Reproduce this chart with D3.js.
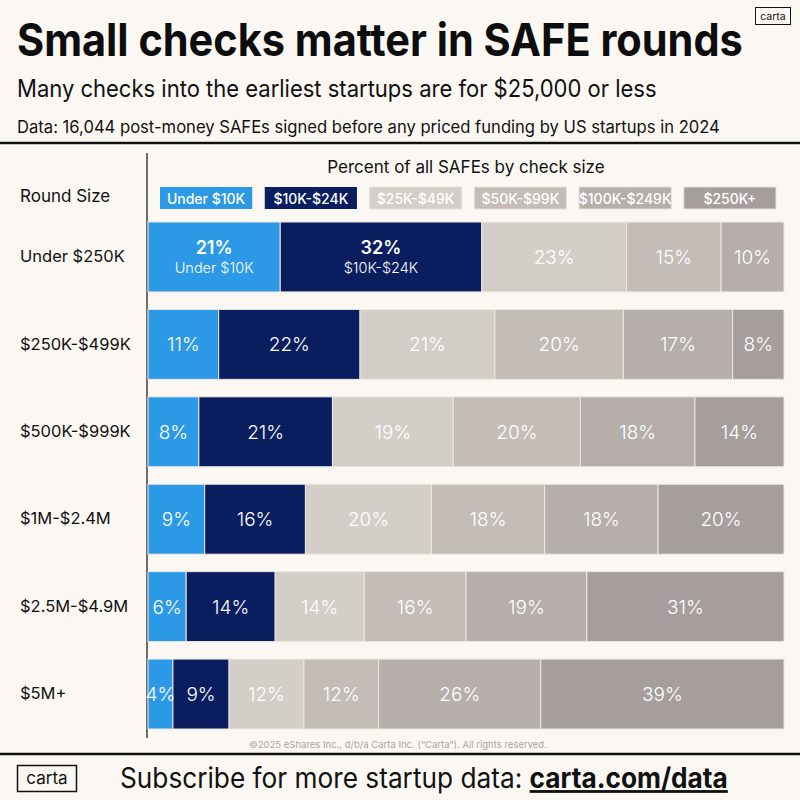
<!DOCTYPE html>
<html><head><meta charset="utf-8">
<script src="https://cdn.jsdelivr.net/npm/d3@7"></script>
<style>
body{margin:0;background:#fbf8f3}
svg{display:block}
text{font-family:Inter,'Open Sans',sans-serif}
</style>
</head><body>
<svg id="c" width="800" height="800"></svg>
<script>
// ---- data ----
const rounds = ["Under $250K", "$250K-$499K", "$500K-$999K", "$1M-$2.4M", "$2.5M-$4.9M", "$5M+"];
const checkSizes = ["Under $10K", "$10K-$24K", "$25K-$49K", "$50K-$99K", "$100K-$249K", "$250K+"];
const under10K   = [21, 11, 8, 9, 6, 4];
const k10to24    = [32, 22, 21, 16, 14, 9];
const k25to49    = [23, 21, 19, 20, 14, 12];
const k50to99    = [15, 20, 20, 18, 16, 12];
const k100to249  = [10, 17, 18, 18, 19, 26];
const k250plus   = [0, 8, 14, 20, 31, 39];
const colors = ["#2c99e7", "#0a1d5f", "#d4cec9", "#c3bcb7", "#b5aeaa", "#a69e9c"];

const series = [under10K, k10to24, k25to49, k50to99, k100to249, k250plus];
const table = rounds.map((r, i) => {
  const o = {round: r};
  checkSizes.forEach((c, j) => o[c] = series[j][i]);
  return o;
});

const svg = d3.select("#c");
const W = 800;
svg.append("rect").attr("width", 800).attr("height", 800).attr("fill", "#fbf8f3");

// fit a text horizontally to a target width using a scale transform
function fitText(sel, x0, y0, target) {
  sel.attr("x", 0).attr("y", 0);
  const w = sel.node().getComputedTextLength();
  const sx = Math.min(1.2, target / w);
  sel.attr("transform", `translate(${x0},${y0}) scale(${sx},1)`);
}

// ---- header ----
fitText(svg.append("text")
  .attr("font-size", 45).attr("font-weight", 700).attr("fill", "#0d0d0d")
  .text("Small checks matter in SAFE rounds"), 17, 56, 726);
fitText(svg.append("text")
  .attr("font-size", 24).attr("fill", "#111")
  .text("Many checks into the earliest startups are for $25,000 or less"), 17, 97, 640);
fitText(svg.append("text")
  .attr("font-size", 17).attr("fill", "#111")
  .text("Data: 16,044 post-money SAFEs signed before any priced funding by US startups in 2024"), 17, 133, 703);
svg.append("line").attr("x1", 0).attr("x2", W).attr("y1", 143).attr("y2", 143)
  .attr("stroke", "#111").attr("stroke-width", 2.5);

// top-right logo
svg.append("rect").attr("x", 755.5).attr("y", 7.5).attr("width", 35).attr("height", 17)
  .attr("fill", "none").attr("stroke", "#111").attr("stroke-width", 1);
svg.append("text").attr("x", 773).attr("y", 20).attr("text-anchor", "middle")
  .attr("font-size", 10.5).attr("fill", "#111").text("carta");

// ---- scales ----
const x = d3.scaleLinear().domain([0, 1]).range([148, 784]);
const y = d3.scaleBand().domain(rounds).range([222, 729]).paddingInner(0.2).paddingOuter(0);

const stacked = d3.stack().keys(checkSizes).offset(d3.stackOffsetExpand)(table);

// ---- legend ----
svg.append("text").attr("x", 466).attr("y", 173).attr("text-anchor", "middle")
  .attr("font-size", 17).attr("fill", "#111").text("Percent of all SAFEs by check size");
const lx = d3.scaleBand().domain(checkSizes).range([160, 776]).paddingInner(0.12);
const lg = svg.append("g").selectAll("g").data(checkSizes).join("g");
lg.append("rect").attr("x", d => lx(d)).attr("y", 187).attr("width", lx.bandwidth()).attr("height", 22)
  .attr("fill", (d, i) => colors[i]).attr("stroke", (d, i) => i > 1 ? "#e6e1dc" : "none");
lg.append("text").attr("x", d => lx(d) + lx.bandwidth() / 2).attr("y", 203.5)
  .attr("text-anchor", "middle").attr("font-size", 14).attr("font-weight", 500).attr("fill", "#fff").text(d => d);

// ---- axis (row labels) ----
svg.append("text").attr("x", 20).attr("y", 202).attr("font-size", 17).attr("fill", "#111").text("Round Size");
const ax = svg.append("g").attr("transform", "translate(147,0)")
  .call(d3.axisLeft(y).tickSize(0).tickPadding(0));
ax.select(".domain").remove();
ax.selectAll("text").attr("x", 20 - 147).attr("text-anchor", "start")
  .attr("font-size", 16.5).attr("fill", "#111").attr("font-family", null);
svg.append("line").attr("x1", 147).attr("x2", 147).attr("y1", 153).attr("y2", 738)
  .attr("stroke", "#111").attr("stroke-width", 1.2);

// ---- bars ----
const layers = svg.append("g").selectAll("g").data(stacked).join("g")
  .attr("fill", (d, i) => colors[i]);
layers.selectAll("rect").data(d => d.filter(p => p.data[d.key] > 0).map(p => ({p, key: d.key})))
  .join("rect")
  .attr("x", d => x(d.p[0])).attr("y", d => y(d.p.data.round))
  .attr("width", d => x(d.p[1]) - x(d.p[0])).attr("height", y.bandwidth())
  .attr("stroke", "#ece8e3").attr("stroke-width", 1);

// labels
const lab = svg.append("g");
stacked.forEach((layer, j) => {
  layer.forEach(p => {
    const v = p.data[layer.key];
    if (v <= 0) return;
    const cx = (x(p[0]) + x(p[1])) / 2;
    const cy = y(p.data.round) + y.bandwidth() / 2;
    const twoLine = p.data.round === rounds[0] && j < 2;
    if (twoLine) {
      lab.append("text").attr("x", cx).attr("y", cy - 3).attr("text-anchor", "middle")
        .attr("font-size", 18).attr("font-weight", 600).attr("fill", "#fff").text(v + "%");
      lab.append("text").attr("x", cx).attr("y", cy + 16).attr("text-anchor", "middle")
        .attr("font-size", 14.5).attr("font-weight", 300).attr("fill", "#fff").text(layer.key);
    } else {
      lab.append("text").attr("x", cx).attr("y", cy + 7).attr("text-anchor", "middle")
        .attr("font-size", 19).attr("font-weight", 300).attr("fill", "#fff").text(v + "%");
    }
  });
});

// ---- footer ----
svg.append("text").attr("x", 398).attr("y", 748).attr("text-anchor", "middle")
  .attr("font-size", 9.5).attr("fill", "#a9a5a1")
  .text("©2025 eShares Inc., d/b/a Carta Inc. (\u201CCarta\u201D). All rights reserved.");
svg.append("line").attr("x1", 0).attr("x2", W).attr("y1", 754).attr("y2", 754)
  .attr("stroke", "#111").attr("stroke-width", 2.5);
svg.append("rect").attr("x", 17.5).attr("y", 765.5).attr("width", 59).attr("height", 26)
  .attr("fill", "none").attr("stroke", "#111").attr("stroke-width", 1.5);
svg.append("text").attr("x", 47).attr("y", 784).attr("text-anchor", "middle")
  .attr("font-size", 17).attr("fill", "#111").text("carta");
const ft = svg.append("text").attr("font-size", 28).attr("fill", "#111");
ft.append("tspan").text("Subscribe for more startup data: ");
ft.append("tspan").attr("font-weight", 700).attr("text-decoration", "underline").text("carta.com/data");
fitText(ft, 120, 788, 608);
</script>
</body></html>
